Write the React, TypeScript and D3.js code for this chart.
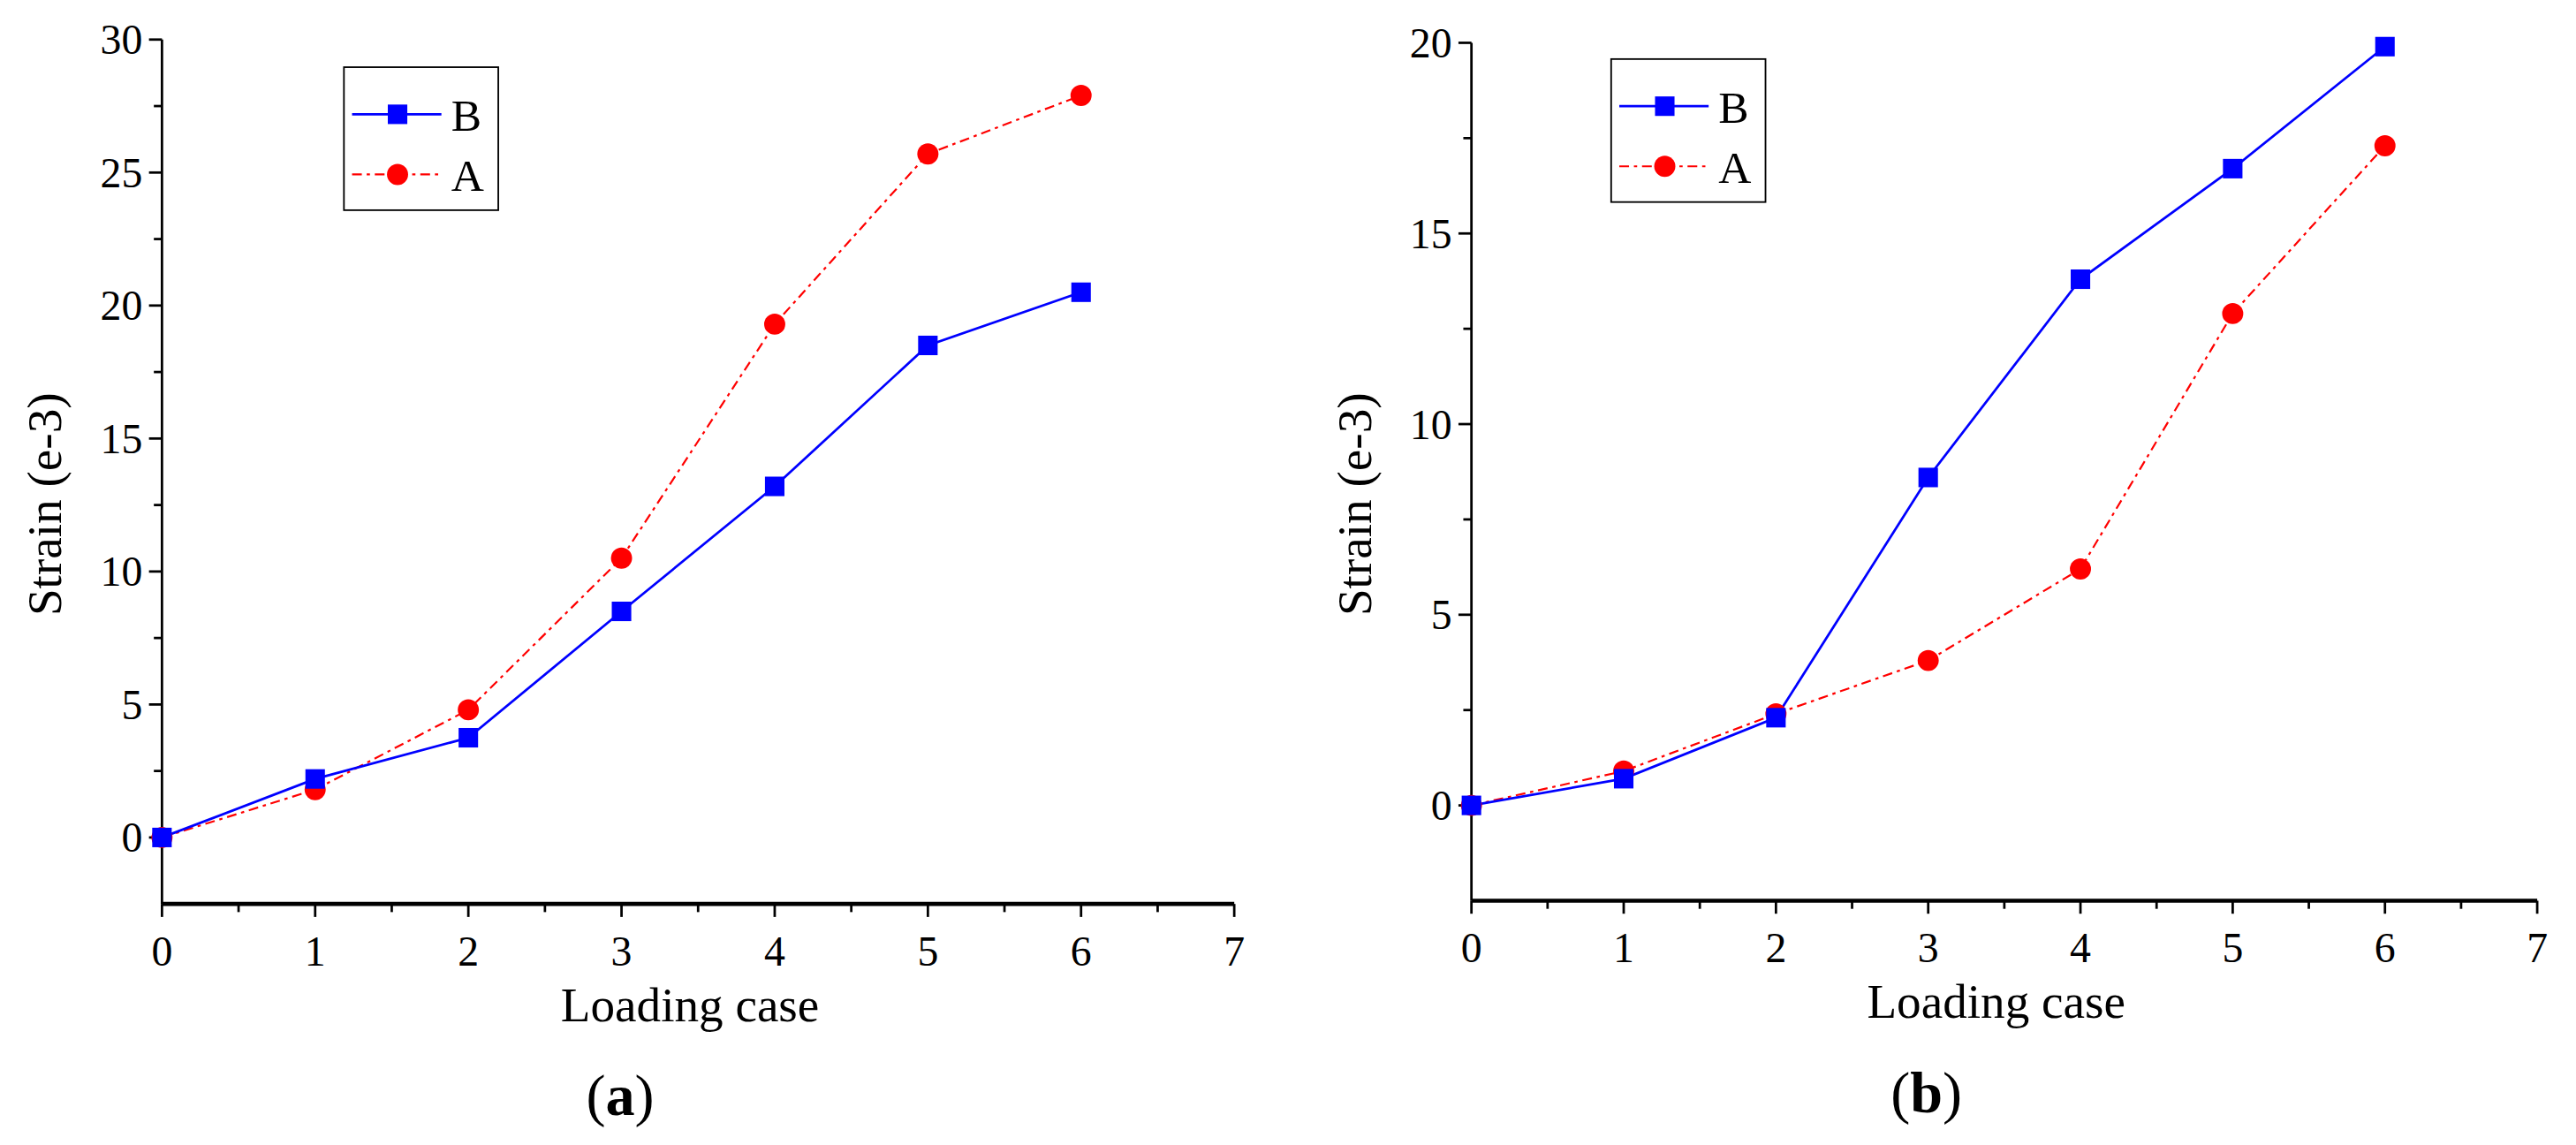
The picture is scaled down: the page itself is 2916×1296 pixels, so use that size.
import * as d3 from "d3";

const cases = [0, 1, 2, 3, 4, 5, 6];
const leftB = [0, 2.2, 3.75, 8.5, 13.2, 18.5, 20.5];
const leftA = [0, 1.8, 4.8, 10.5, 19.3, 25.7, 27.9];
const rightB = [0, 0.7, 2.3, 8.6, 13.8, 16.7, 19.9];
const rightA = [0, 0.9, 2.4, 3.8, 6.2, 12.9, 17.3];
const xTicks = [0, 1, 2, 3, 4, 5, 6, 7];
const leftYTicks = [0, 5, 10, 15, 20, 25, 30];
const rightYTicks = [0, 5, 10, 15, 20];

const font = "'Liberation Serif', 'Times New Roman', serif";

type PanelProps = {
  x0: number; x7: number; yTop: number; yBot: number;
  yDomain: [number, number]; yTickVals: number[]; minorStep: number;
  b: number[]; a: number[]; label: string;
  legend: { x: number; y: number };
};

const Panel = (p: PanelProps) => {
  const x = d3.scaleLinear().domain([0, 7]).range([p.x0, p.x7]);
  const y = d3.scaleLinear().domain(p.yDomain).range([p.yBot, p.yTop]);
  const line = d3.line<number>().x((_, i) => x(cases[i])).y(d => y(d));
  const minorX = d3.range(0.5, 7, 1);
  const minorY = d3.range(p.yTickVals[0] + p.minorStep, p.yDomain[1], p.minorStep * 2);
  const lx = p.legend.x, ly = p.legend.y;
  return (
    <g fontFamily={font}>
      <line x1={p.x0} x2={p.x0} y1={p.yTop} y2={p.yBot} stroke="#000" strokeWidth={1.5} />
      <line x1={p.x0} x2={p.x7} y1={p.yBot} y2={p.yBot} stroke="#000" strokeWidth={2.5} />
      {xTicks.map(t => (
        <g key={t}>
          <line x1={x(t)} x2={x(t)} y1={p.yBot} y2={p.yBot + 8} stroke="#000" strokeWidth={1.5} />
          <text x={x(t)} y={p.yBot + 38} textAnchor="middle" fontSize={26}>{t}</text>
        </g>
      ))}
      {minorX.map(t => (
        <line key={t} x1={x(t)} x2={x(t)} y1={p.yBot} y2={p.yBot + 5} stroke="#000" strokeWidth={1.5} />
      ))}
      {p.yTickVals.map(t => (
        <g key={t}>
          <line x1={p.x0} x2={p.x0 - 8} y1={y(t)} y2={y(t)} stroke="#000" strokeWidth={1.5} />
          <text x={p.x0 - 12} y={y(t) + 9} textAnchor="end" fontSize={26}>{t}</text>
        </g>
      ))}
      {minorY.map(t => (
        <line key={t} x1={p.x0} x2={p.x0 - 5} y1={y(t)} y2={y(t)} stroke="#000" strokeWidth={1.5} />
      ))}
      <text x={(p.x0 + p.x7) / 2 - 5} y={p.yBot + 72} textAnchor="middle" fontSize={30}>Loading case</text>
      <text transform={`translate(${p.x0 - 62},${(p.yTop + p.yBot) / 2 + 20}) rotate(-90)`} textAnchor="middle" fontSize={30}>Strain (e-3)</text>
      <text x={(p.x0 + p.x7) / 2 - 48} y={p.yBot + 130} textAnchor="middle" fontSize={36}>
        (<tspan fontWeight="bold">{p.label}</tspan>)
      </text>
      <path d={line(p.a) ?? ""} fill="none" stroke="red" strokeWidth={1.2} strokeDasharray="6 3 2 3" />
      <path d={line(p.b) ?? ""} fill="none" stroke="blue" strokeWidth={1.5} />
      {p.a.map((v, i) => <circle key={i} cx={x(cases[i])} cy={y(v)} r={6.5} fill="red" />)}
      {p.b.map((v, i) => <rect key={i} x={x(cases[i]) - 6} y={y(v) - 6} width={12} height={12} fill="blue" />)}
      <rect x={lx} y={ly} width={95} height={88} fill="none" stroke="#000" strokeWidth={1} />
      <line x1={lx + 5} x2={lx + 60} y1={ly + 29} y2={ly + 29} stroke="blue" strokeWidth={1.5} />
      <rect x={lx + 27} y={ly + 23} width={12} height={12} fill="blue" />
      <text x={lx + 66} y={ly + 39} fontSize={28}>B</text>
      <line x1={lx + 5} x2={lx + 60} y1={ly + 66} y2={ly + 66} stroke="red" strokeWidth={1.2} strokeDasharray="6 3 2 3" />
      <circle cx={lx + 33} cy={ly + 66} r={6.5} fill="red" />
      <text x={lx + 66} y={ly + 76} fontSize={28}>A</text>
    </g>
  );
};

export default function App() {
  return (
    <svg width={2896} height={1280} viewBox="0 0 1560 696" style={{ display: "block" }}>
      <rect width={1560} height={696} fill="#fff" />
      <Panel x0={88} x7={748} yTop={20} yBot={552} yDomain={[-2.5, 30]} yTickVals={leftYTicks}
        minorStep={2.5} b={leftB} a={leftA} label="a" legend={{ x: 200, y: 37 }} />
      <Panel x0={894} x7={1550} yTop={22} yBot={550} yDomain={[-2.5, 20]} yTickVals={rightYTicks}
        minorStep={2.5} b={rightB} a={rightA} label="b" legend={{ x: 980, y: 32 }} />
    </svg>
  );
}
